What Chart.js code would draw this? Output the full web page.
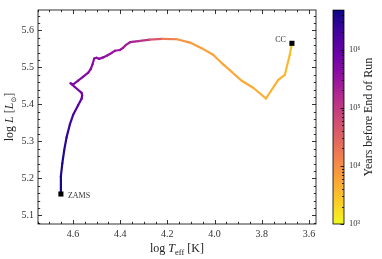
<!DOCTYPE html>
<html>
<head>
<meta charset="utf-8">
<script src="https://cdn.jsdelivr.net/npm/chart.js@4.4.0/dist/chart.umd.min.js"></script>
<style>
  html, body { margin: 0; padding: 0; background: #fff; }
  #wrap { position: relative; width: 382px; height: 259px; overflow: hidden; }
  #mainCanvas { position: absolute; left: 0; top: 0; }
  #cbCanvas { position: absolute; left: 320px; top: 0; }
</style>
</head>
<body>
<div id="wrap">
  <canvas id="mainCanvas" width="322" height="259"></canvas>
  <canvas id="cbCanvas" width="62" height="259"></canvas>
</div>
<script>
// --- track (ZAMS -> CC) ---
const logTeff = [4.651, 4.651, 4.645, 4.637, 4.627, 4.613, 4.599, 4.578, 4.563, 4.561,
                 4.563, 4.592, 4.610, 4.599, 4.578, 4.556, 4.535, 4.525, 4.517, 4.510,
                 4.500, 4.489, 4.472, 4.455, 4.436, 4.422, 4.401, 4.387, 4.375, 4.358,
                 4.323, 4.274, 4.223, 4.159, 4.104, 4.055, 4.006, 3.963, 3.885, 3.836,
                 3.782, 3.730, 3.702, 3.681, 3.672];
const logLum  = [5.158, 5.206, 5.241, 5.276, 5.311, 5.346, 5.372, 5.398, 5.416, 5.425,
                 5.431, 5.447, 5.457, 5.454, 5.464, 5.475, 5.486, 5.495, 5.508, 5.524,
                 5.526, 5.523, 5.527, 5.532, 5.539, 5.545, 5.547, 5.553, 5.561, 5.568,
                 5.571, 5.575, 5.577, 5.576, 5.567, 5.552, 5.534, 5.508, 5.464, 5.445,
                 5.416, 5.466, 5.480, 5.534, 5.565];
// log10(years before end of run), estimated from the colour
const logYears = [6.65, 6.60, 6.55, 6.50, 6.45, 6.35, 6.25, 6.10, 5.95, 5.90,
                  5.85, 5.78, 5.74, 5.72, 5.70, 5.68, 5.66, 5.65, 5.63, 5.60,
                  5.58, 5.56, 5.54, 5.52, 5.50, 5.47, 5.45, 5.42, 5.38, 5.33,
                  5.28, 4.90, 4.40, 4.00, 3.85, 3.80, 3.77, 3.75, 3.73, 3.70,
                  3.66, 3.62, 3.60, 3.55, 3.50];

const markerNames = ['ZAMS', 'CC'];
const markerTeff = [4.651, 3.672];
const markerLum = [5.158, 5.565];

const xTickValues = [4.6, 4.4, 4.2, 4.0, 3.8, 3.6];
const yTickValues = [5.1, 5.2, 5.3, 5.4, 5.5, 5.6];
const cbTickValues = [1e3, 1e4, 1e5, 1e6];
const cbTickLabels = ['10³', '10⁴', '10⁵', '10⁶'];
const cbMin = 1e3, cbMax = 4.8e6;

// plasma colormap, deciles
const plasma = ['#0d0887', '#41049d', '#6a00a8', '#8f0da4', '#b12a90', '#cc4778',
                '#e16462', '#f2844b', '#fca636', '#fcce25', '#f0f921'];

function hexToRgb(h) {
    return [parseInt(h.slice(1, 3), 16), parseInt(h.slice(3, 5), 16), parseInt(h.slice(5, 7), 16)];
}
function plasmaAt(t) {
    t = Math.min(1, Math.max(0, t)) * 10;
    const i = Math.min(9, Math.floor(t));
    const f = t - i;
    const a = hexToRgb(plasma[i]), b = hexToRgb(plasma[i + 1]);
    const c = a.map((v, k) => Math.round(v + (b[k] - v) * f));
    return `rgb(${c[0]},${c[1]},${c[2]})`;
}
function colourForYears(ly) {
    const lo = Math.log10(cbMin), hi = Math.log10(cbMax);
    return plasmaAt(1 - (ly - lo) / (hi - lo));
}

const serif = '"Liberation Serif", "DejaVu Serif", serif';

// draw a line of mixed-style text, centred on x
function drawRuns(ctx, runs, x, y) {
    let total = 0;
    runs.forEach(r => { ctx.font = r.font; r.w = ctx.measureText(r.t).width; total += r.w; });
    let cx = x - total / 2;
    ctx.textAlign = 'left';
    ctx.textBaseline = 'alphabetic';
    runs.forEach(r => {
        ctx.font = r.font;
        ctx.fillText(r.t, cx, y + (r.dy || 0));
        cx += r.w;
    });
}

// --- main chart decorations: frame, inward ticks, labels, axis titles ---
const frameTicks = {
    id: 'frameTicks',
    afterDatasetsDraw(chart) {
        const { ctx, chartArea: a, scales: { x, y } } = chart;
        ctx.save();
        ctx.strokeStyle = '#000';
        ctx.lineWidth = 0.8;
        ctx.strokeRect(a.left, a.top, a.right - a.left, a.bottom - a.top);
        ctx.beginPath();
        for (let i = 0; i <= 26; i++) {
            const v = 3.5 + i * 0.05;
            const px = Math.round(x.getPixelForValue(v)) + 0.5;
            if (px < a.left || px > a.right) continue;
            const major = xTickValues.some(t => Math.abs(t - v) < 1e-6);
            const len = major ? 4 : 2.2;
            ctx.moveTo(px, a.bottom); ctx.lineTo(px, a.bottom - len);
            ctx.moveTo(px, a.top); ctx.lineTo(px, a.top + len);
        }
        for (let i = 0; i <= 35; i++) {
            const v = 5.0 + i * 0.02;
            const py = Math.round(y.getPixelForValue(v)) + 0.5;
            if (py < a.top || py > a.bottom) continue;
            const major = yTickValues.some(t => Math.abs(t - v) < 1e-6);
            const len = major ? 4 : 2.2;
            ctx.moveTo(a.left, py); ctx.lineTo(a.left + len, py);
            ctx.moveTo(a.right, py); ctx.lineTo(a.right - len, py);
        }
        ctx.stroke();

        // marker names
        ctx.fillStyle = '#333';
        ctx.font = '8px ' + serif;
        ctx.textBaseline = 'middle';
        const zx = x.getPixelForValue(markerTeff[0]), zy = y.getPixelForValue(markerLum[0]);
        ctx.textAlign = 'left';
        ctx.fillText(markerNames[0], zx + 7, zy + 1.5);
        const cx = x.getPixelForValue(markerTeff[1]), cy = y.getPixelForValue(markerLum[1]);
        ctx.textAlign = 'right';
        ctx.fillText(markerNames[1], cx - 6, cy - 3);

        // axis titles
        ctx.fillStyle = '#222';
        const midX = (a.left + a.right) / 2;
        drawRuns(ctx, [
            { t: 'log ', font: '12px ' + serif },
            { t: 'T', font: 'italic 12px ' + serif },
            { t: 'eff', font: '8.5px ' + serif, dy: 2.5 },
            { t: ' [K]', font: '12px ' + serif }
        ], midX, 252);
        ctx.save();
        ctx.translate(13, (a.top + a.bottom) / 2);
        ctx.rotate(-Math.PI / 2);
        drawRuns(ctx, [
            { t: 'log ', font: '12px ' + serif },
            { t: 'L', font: 'italic 12px ' + serif },
            { t: ' [', font: '12px ' + serif },
            { t: 'L', font: 'italic 12px ' + serif },
            { t: '⊙', font: '7px "DejaVu Sans", sans-serif', dy: 2.5 },
            { t: ']', font: '12px ' + serif }
        ], 0, 0);
        ctx.restore();
        ctx.restore();
    }
};

new Chart(document.getElementById('mainCanvas'), {
    type: 'scatter',
    data: {
        datasets: [
            {
                label: 'markers',
                data: markerTeff.map((t, i) => ({ x: t, y: markerLum[i] })),
                pointStyle: 'rect',
                pointRadius: 3.6,
                backgroundColor: '#000',
                borderColor: '#000',
                borderWidth: 0,
                order: 0
            },
            {
                label: 'track',
                data: logTeff.map((t, i) => ({ x: t, y: logLum[i] })),
                showLine: true,
                pointRadius: 0,
                borderWidth: 2.2,
                borderCapStyle: 'round',
                borderJoinStyle: 'round',
                borderColor: colourForYears(logYears[0]),
                segment: {
                    borderColor: c => colourForYears((logYears[c.p0DataIndex] + logYears[c.p1DataIndex]) / 2)
                },
                order: 1
            }
        ]
    },
    options: {
        responsive: false,
        animation: false,
        events: [],
        layout: { padding: { left: 0, right: 6, top: 4, bottom: 0 } },
        plugins: { legend: { display: false }, tooltip: { enabled: false } },
        scales: {
            x: {
                type: 'linear',
                reverse: true,
                min: 3.570,
                max: 4.748,
                grid: { display: false, drawTicks: false },
                border: { display: false },
                afterBuildTicks: s => { s.ticks = xTickValues.map(v => ({ value: v })); },
                afterFit: s => { s.height = 35; },
                ticks: {
                    padding: 4,
                    color: '#333',
                    font: { family: serif, size: 10 },
                    maxRotation: 0,
                    callback: v => Number(v).toFixed(1)
                }
            },
            y: {
                type: 'linear',
                min: 5.077,
                max: 5.655,
                grid: { display: false, drawTicks: false },
                border: { display: false },
                afterBuildTicks: s => { s.ticks = yTickValues.map(v => ({ value: v })); },
                afterFit: s => { s.width = 38; },
                ticks: {
                    padding: 4,
                    color: '#333',
                    font: { family: serif, size: 10 },
                    callback: v => Number(v).toFixed(1)
                }
            }
        }
    },
    plugins: [frameTicks]
});

// --- colour bar ---
const cbDecor = {
    id: 'cbDecor',
    afterDatasetsDraw(chart) {
        const { ctx, chartArea: a, scales: { y } } = chart;
        ctx.save();
        ctx.strokeStyle = '#000';
        ctx.lineWidth = 0.8;
        ctx.strokeRect(a.left, a.top, a.right - a.left, a.bottom - a.top);
        ctx.beginPath();
        for (let d = 3; d <= 6; d++) {
            for (let k = 1; k <= 9; k++) {
                const v = k * Math.pow(10, d);
                if (v < cbMin || v > cbMax) continue;
                const py = Math.round(y.getPixelForValue(v)) + 0.5;
                const len = k === 1 ? 3.5 : 2;
                ctx.moveTo(a.right, py); ctx.lineTo(a.right - len, py);
            }
        }
        ctx.stroke();
        ctx.fillStyle = '#222';
        ctx.font = '12px ' + serif;
        ctx.textAlign = 'center';
        ctx.textBaseline = 'middle';
        ctx.translate(49, (a.top + a.bottom) / 2);
        ctx.rotate(-Math.PI / 2);
        ctx.fillText('Years before End of Run', 0, 0);
        ctx.restore();
    }
};

new Chart(document.getElementById('cbCanvas'), {
    type: 'bar',
    data: {
        labels: ['years'],
        datasets: [{
            data: [[cbMin, cbMax]],
            barPercentage: 1,
            categoryPercentage: 1,
            borderWidth: 0,
            backgroundColor: c => {
                const a = c.chart.chartArea;
                if (!a) return '#888';
                const g = c.chart.ctx.createLinearGradient(0, a.bottom, 0, a.top);
                plasma.forEach((col, i) => g.addColorStop(i / 10, plasma[10 - i]));
                return g;
            }
        }]
    },
    options: {
        responsive: false,
        animation: false,
        events: [],
        layout: { padding: { left: 13, right: 0, top: 4, bottom: 35 } },
        plugins: { legend: { display: false }, tooltip: { enabled: false } },
        scales: {
            x: { display: false },
            y: {
                type: 'logarithmic',
                position: 'right',
                min: cbMin,
                max: cbMax,
                grid: { display: false, drawTicks: false },
                border: { display: false },
                afterBuildTicks: s => { s.ticks = cbTickValues.map(v => ({ value: v })); },
                afterFit: s => { s.width = 38; },
                ticks: {
                    padding: 5,
                    color: '#333',
                    font: { family: serif, size: 8.5 },
                    callback: (v, i) => cbTickLabels[i]
                }
            }
        }
    },
    plugins: [cbDecor]
});
</script>
</body>
</html>
